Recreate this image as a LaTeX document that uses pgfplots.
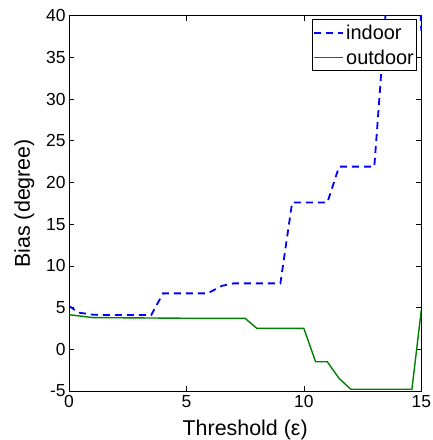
\documentclass[border=0pt]{standalone}
\usepackage{fontspec}
\setmainfont{Liberation Sans}
\usepackage{pgfplots}
\pgfplotsset{compat=1.18}
\definecolor{mgreen}{rgb}{0,0.5,0}
\begin{document}
\begin{tikzpicture}
\begin{axis}[name=ax,
  scale only axis, width=352bp, height=375bp,
  xmin=0, xmax=15, ymin=-5, ymax=40,
  xtick={0,5,10,15}, ytick={-5,0,5,10,15,20,25,30,35,40},
  tick align=inside, major tick length=5bp,
  tick style={black, line width=0.6bp},
  axis line style={line width=0.9bp},
  /pgf/number format/assume math mode=true,
  ticklabel style={font=\fontsize{17.5}{17.5}\selectfont},
  xticklabel style={yshift=-1bp},
  label style={font=\fontsize{21.5}{21.5}\selectfont},
  xlabel={Threshold (ε)}, ylabel={Bias (degree)},
  xlabel style={yshift=-5bp},
  ylabel style={yshift=5bp},
  legend style={at={(rel axis cs:1,1)}, anchor=north east, xshift=-4bp, yshift=-3.5bp,
    font=\fontsize{20}{20}\selectfont, draw=black, line width=0.9bp, inner xsep=1bp, inner ysep=3bp,
    row sep=5bp, cells={anchor=west}},
  legend image code/.code={\draw[#1] (0bp,0bp) -- (29bp,0bp);},
]
\addplot[blue, line width=1.8bp, dash pattern=on 7bp off 5bp] coordinates {
(0,5.2) (0.4,4.4) (1,4.15) (1.5,4.1) (3.5,4.1) (4,6.7) (5.9,6.7) (6.5,7.6) (7,7.9) (9,7.9) (9.5,17.6) (11,17.6) (11.5,21.9) (13,21.9) (13.5,41) (14,70) (14.5,70) (15,38.2)
};
\addlegendentry{indoor}
\addplot[mgreen, line width=1.4bp] coordinates {
(0,4.15) (1,3.8) (6,3.7) (7.5,3.7) (8,2.5) (10,2.5) (10.5,-1.5) (11,-1.5) (11.5,-3.5) (12,-4.8) (14.6,-4.8) (15,4.7)
};
\addlegendentry{outdoor}
\end{axis}
\pgfresetboundingbox
\path[use as bounding box] ([shift={(-69bp,-49bp)}]ax.south west) rectangle ([shift={(11bp,15.7bp)}]ax.north east);
\end{tikzpicture}
\end{document}
